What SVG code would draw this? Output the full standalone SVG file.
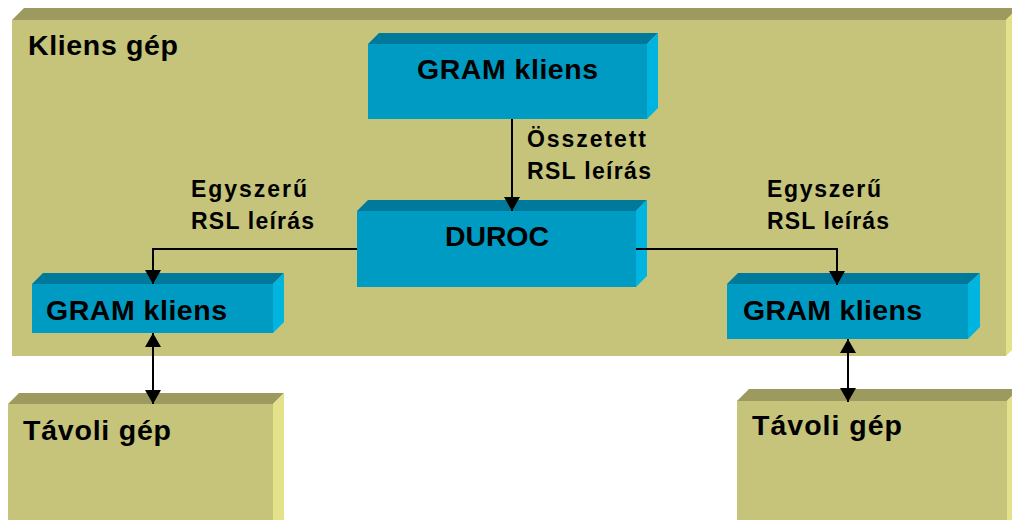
<svg xmlns="http://www.w3.org/2000/svg" width="1012" height="520" viewBox="0 0 1012 520">
  <style>
    .olive-front { fill: #C5C47A; }
    .olive-top { fill: #9C9A5E; }
    .olive-side { fill: #E3E18A; }
    .teal-front { fill: #009BC3; }
    .teal-top { fill: #00799A; }
    .teal-side { fill: #00B4E0; }
    .title { font-family: "Liberation Sans", Arial, sans-serif; font-weight: bold; font-size: 28.5px; fill: #000; }
    .label { font-family: "Liberation Sans", Arial, sans-serif; font-weight: bold; font-size: 23px; fill: #000; }
    .wire { fill: none; stroke: #000; stroke-width: 2; }
  </style>
  <defs>
    <marker id="head" markerUnits="userSpaceOnUse" markerWidth="16" markerHeight="16" viewBox="0 0 14 16" refX="14" refY="8" orient="auto-start-reverse">
      <path d="M0,0 L14,8 L0,16 Z" fill="#000"/>
    </marker>
  </defs>
  <rect width="1012" height="520" fill="#fff"/>

  <!-- client machine -->
  <g id="kliens-gep">
    <polygon class="olive-top" points="12,20 24,8 1018,8 1006,20"/>
    <polygon class="olive-side" points="1006,20 1018,8 1018,344 1006,356"/>
    <rect class="olive-front" x="12" y="20" width="994" height="336"/>
    <text class="title" x="28" y="55" textLength="150" lengthAdjust="spacing">Kliens gép</text>
  </g>

  <!-- remote machines -->
  <g id="tavoli-gep-bal">
    <polygon class="olive-top" points="8,404 19,393 284,393 273,404"/>
    <polygon class="olive-side" points="273,404 284,393 284,530 273,530"/>
    <rect class="olive-front" x="8" y="404" width="265" height="126"/>
    <text class="title" x="23" y="440" textLength="148" lengthAdjust="spacing">Távoli gép</text>
  </g>
  <g id="tavoli-gep-jobb">
    <polygon class="olive-top" points="737,401 749,389 1019,389 1007,401"/>
    <polygon class="olive-side" points="1007,401 1019,389 1019,530 1007,530"/>
    <rect class="olive-front" x="737" y="401" width="270" height="129"/>
    <text class="title" x="752" y="435" textLength="150" lengthAdjust="spacing">Távoli gép</text>
  </g>

  <!-- components -->
  <g id="gram-kliens-felso">
    <polygon class="teal-top" points="368,44 379,33 658,33 647,44"/>
    <polygon class="teal-side" points="647,44 658,33 658,108 647,119"/>
    <rect class="teal-front" x="368" y="44" width="279" height="75"/>
    <text class="title" x="417" y="79" textLength="181" lengthAdjust="spacing">GRAM kliens</text>
  </g>
  <g id="duroc">
    <polygon class="teal-top" points="357,211 368,200 647,200 636,211"/>
    <polygon class="teal-side" points="636,211 647,200 647,276 636,287"/>
    <rect class="teal-front" x="357" y="211" width="279" height="76"/>
    <text class="title" x="445" y="246" textLength="104" lengthAdjust="spacing">DUROC</text>
  </g>
  <g id="gram-kliens-bal">
    <polygon class="teal-top" points="32,284 43,273 284,273 273,284"/>
    <polygon class="teal-side" points="273,284 284,273 284,322 273,333"/>
    <rect class="teal-front" x="32" y="284" width="241" height="49"/>
    <text class="title" x="46" y="320" textLength="181" lengthAdjust="spacing">GRAM kliens</text>
  </g>
  <g id="gram-kliens-jobb">
    <polygon class="teal-top" points="727,284 738,273 980,273 968,284"/>
    <polygon class="teal-side" points="968,284 980,273 980,327 968,339"/>
    <rect class="teal-front" x="727" y="284" width="241" height="55"/>
    <text class="title" x="743" y="320" textLength="179" lengthAdjust="spacing">GRAM kliens</text>
  </g>

  <!-- connectors -->
  <g id="connectors">
    <path class="wire" d="M512,119 V211" marker-end="url(#head)"/>
    <path class="wire" d="M357,249 H153 V284" marker-end="url(#head)"/>
    <path class="wire" d="M636,249 H837 V285" marker-end="url(#head)"/>
    <path class="wire" d="M153,333 V404" marker-start="url(#head)" marker-end="url(#head)"/>
    <path class="wire" d="M848,339 V402" marker-start="url(#head)" marker-end="url(#head)"/>
  </g>

  <!-- connector labels -->
  <g id="labels">
    <text class="label" x="527" y="147" textLength="119" lengthAdjust="spacing">Összetett</text>
    <text class="label" x="527" y="179" textLength="124" lengthAdjust="spacing">RSL leírás</text>
    <text class="label" x="191" y="197" textLength="116" lengthAdjust="spacing">Egyszerű</text>
    <text class="label" x="191" y="229" textLength="123" lengthAdjust="spacing">RSL leírás</text>
    <text class="label" x="767" y="197" textLength="114" lengthAdjust="spacing">Egyszerű</text>
    <text class="label" x="767" y="229" textLength="122" lengthAdjust="spacing">RSL leírás</text>
  </g>
</svg>
